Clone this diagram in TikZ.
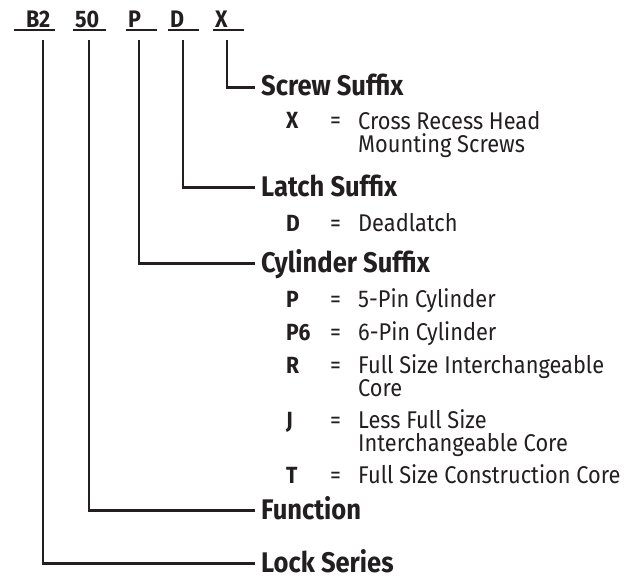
\documentclass[tikz,border=0pt]{standalone}
\usepackage{fontspec}
\setmainfont{Fira Sans}[FakeStretch=0.9]
\usepackage{tikz}
\usetikzlibrary{positioning}
\definecolor{figInk}{HTML}{231F20}
\newcommand{\codefont}{\bfseries\fontsize{24}{25}\selectfont}
\newcommand{\headfont}{\bfseries\fontsize{28.5}{30}\selectfont}
\newcommand{\keyfont}{\bfseries\fontsize{23.5}{23.5}\selectfont}
\newcommand{\descfont}{\fontsize{24.3}{23.5}\selectfont}

\begin{document}
\begin{tikzpicture}[
  x=1bp, y=-1bp,
  code/.style={font=\codefont, text=figInk, inner sep=0pt, anchor=base west},
  heading/.style={font=\headfont, text=figInk, inner sep=0pt, anchor=base west},
  keyletter/.style={font=\keyfont, text=figInk, inner sep=0pt, anchor=base west},
  equals/.style={font=\descfont, text=figInk, inner sep=0pt, anchor=base west},
  desc/.style={font=\descfont, text=figInk, inner sep=0pt, anchor=base west, align=left},
  leader/.style={figInk, line width=2.2bp},
  underline/.style={figInk, line width=1.2bp}
]
\useasboundingbox (0,0) rectangle (634,581);

% Order code
\node[code] (series) at (26,28) {B2};
\node[code] (func) at (75,28) {50};
\node[code] (cyl) at (128,28) {P};
\node[code] (latch) at (170,28) {D};
\node[code] (screw) at (215,28) {X};

\draw[underline] (14,30) -- (55,30);
\draw[underline] (73,30) -- (106,30);
\draw[underline] (126,30) -- (157,30);
\draw[underline] (168,30) -- (199,30);
\draw[underline] (213,30) -- (244,30);

% Drop points under the code
\coordinate (seriesdrop) at (43,40);
\coordinate (funcdrop) at (89,40);
\coordinate (cyldrop) at (139,40);
\coordinate (latchdrop) at (183,40);
\coordinate (screwdrop) at (227,40);

% Screw Suffix (two-line texts sit on their last line)
\node[heading] (screwhead) at (261,96) {Screw Suffix};
\node[keyletter] (xkey) at (286,129) {X};
\node[equals] (xeq) at (330,129) {=};
\node[desc] (xdesc) at (358,152.5) {Cross Recess Head\\Mounting Screws};

% Latch Suffix
\node[heading] (latchhead) at (261,196) {Latch Suffix};
\node[keyletter] (dkey) at (286,231) {D};
\node[equals] (deq) at (330,231) {=};
\node[desc] (ddesc) at (358,231) {Deadlatch};

% Cylinder Suffix
\node[heading] (cylhead) at (261,272) {Cylinder Suffix};
\node[keyletter] (pkey) at (286,307) {P};
\node[equals] (peq) at (330,307) {=};
\node[desc] (pdesc) at (358,307) {5-Pin Cylinder};
\node[keyletter] (psixkey) at (286,340) {P6};
\node[equals] (psixeq) at (330,340) {=};
\node[desc] (psixdesc) at (358,340) {6-Pin Cylinder};
\node[keyletter] (rkey) at (286,373) {R};
\node[equals] (req) at (330,373) {=};
\node[desc] (rdesc) at (358,396.5) {Full Size Interchangeable\\Core};
\node[keyletter] (jkey) at (286,428) {J};
\node[equals] (jeq) at (330,428) {=};
\node[desc] (jdesc) at (358,451.5) {Less Full Size\\Interchangeable Core};
\node[keyletter] (tkey) at (286,483) {T};
\node[equals] (teq) at (330,483) {=};
\node[desc] (tdesc) at (358,483) {Full Size Construction Core};

% Function and Lock Series
\node[heading] (funchead) at (261,519) {Function};
\node[heading] (serieshead) at (261,572) {Lock Series};

% Leaders
\draw[leader] (screwdrop) |- ([xshift=-6bp, yshift=8.5bp]screwhead.base west);
\draw[leader] (latchdrop) |- ([xshift=-6bp, yshift=8.5bp]latchhead.base west);
\draw[leader] (cyldrop) |- ([xshift=-6bp, yshift=8.5bp]cylhead.base west);
\draw[leader] (funcdrop) |- ([xshift=-6bp, yshift=8.5bp]funchead.base west);
\draw[leader] (seriesdrop) |- ([xshift=-6bp, yshift=8.5bp]serieshead.base west);

\end{tikzpicture}
\end{document}
